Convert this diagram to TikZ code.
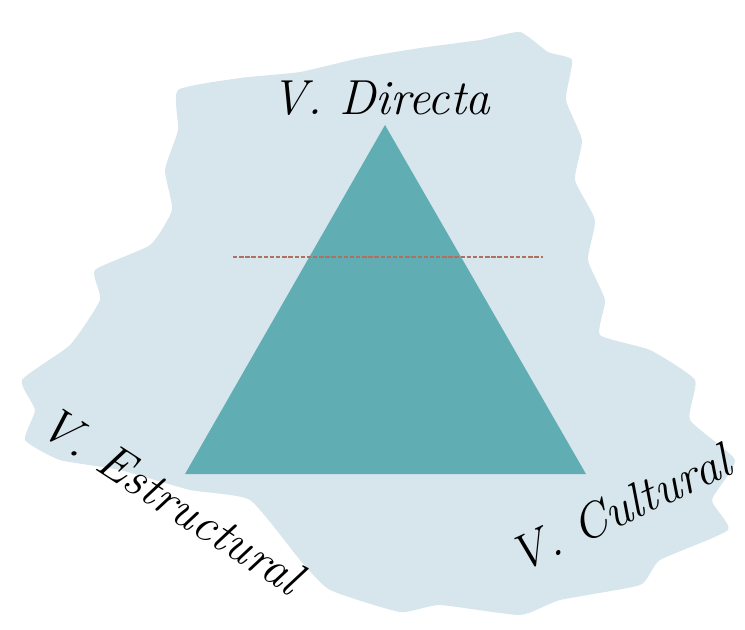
\documentclass[tikz,border=0pt]{standalone}
\usetikzlibrary{positioning}
\definecolor{brush}{RGB}{215,230,236}
\definecolor{teal}{RGB}{96,174,179}
\definecolor{rust}{RGB}{176,112,96}
\begin{document}
\begin{tikzpicture}[
  x=0.2mm, y=-0.2mm,
  every node/.style={font=\fontsize{28}{32}\selectfont\itshape},
  label/.style={inner sep=0pt}
]
\useasboundingbox (0,0) rectangle (745,630);
% brush stroke behind the triangle
\fill[brush] plot[smooth cycle, tension=0.3] coordinates {
  (178,90) (240,78) (300,72) (360,58) (420,48) (480,40) (520,32) (548,52)
  (572,60) (566,100) (582,140) (575,180) (595,220) (588,260) (605,300)
  (600,335) (650,350) (695,380) (690,420) (735,460) (712,500) (728,530)
  (660,560) (640,585) (560,600) (520,615) (440,605) (400,612) (330,590)
  (300,560) (250,500) (190,490) (120,470) (60,460) (25,440) (35,410)
  (22,380) (70,345) (100,300) (95,270) (150,245) (172,210) (165,170)
  (178,130)};
% triangle
\coordinate (top) at (385,125);
\coordinate (bl) at (185,474);
\coordinate (br) at (586,474);
\fill[teal] (top) -- (br) -- (bl) -- cycle;
\coordinate (d1) at (233,257);
\coordinate (d2) at (543,257);
\draw[rust, line width=1.6pt, dash pattern=on 2.5pt off 1pt] (d1) -- (d2);
% labels
\node[label] (dir) at (381,98) {V. Directa};
\node[label, rotate=-33] (est) at (172,500) {V. Estructural};
\node[label, rotate=25] (cul) at (620,508) {V. Cultural};
\end{tikzpicture}
\end{document}
